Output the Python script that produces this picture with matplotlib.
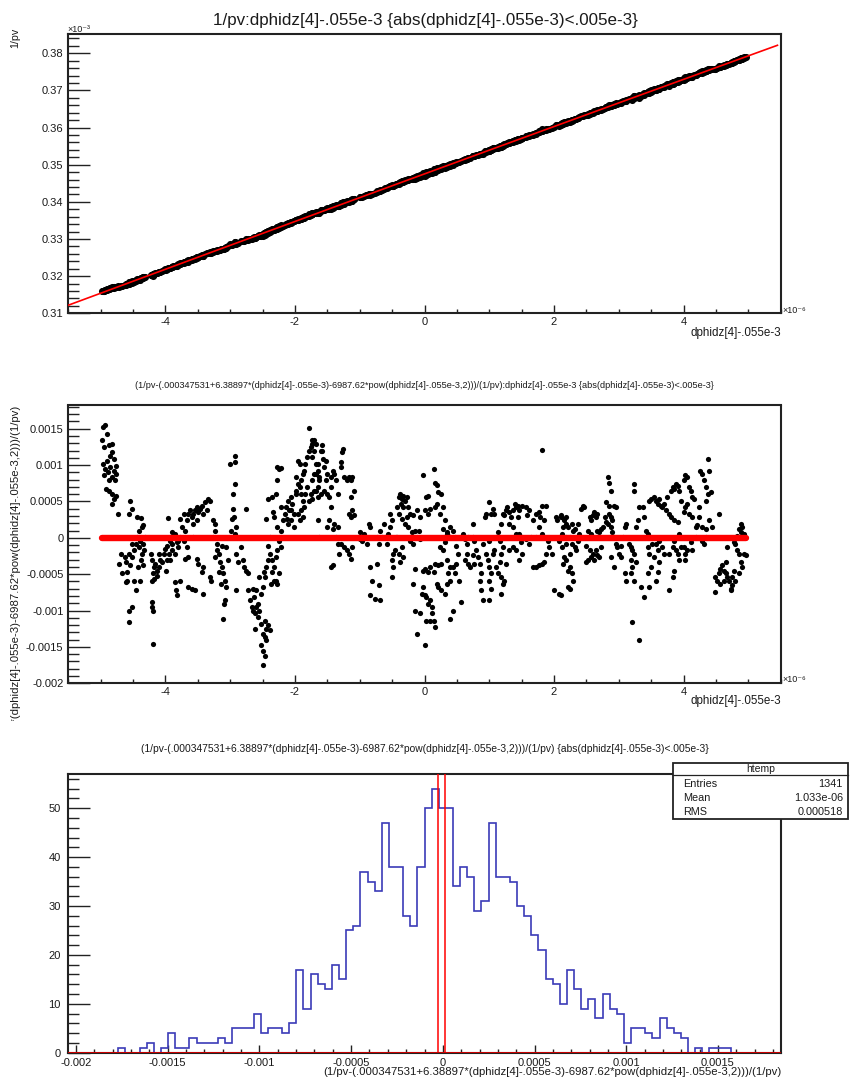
import numpy as np
import matplotlib
matplotlib.use("Agg")
import matplotlib.pyplot as plt
from matplotlib.ticker import MultipleLocator, FuncFormatter
from matplotlib.patches import Rectangle
from matplotlib.lines import Line2D
from matplotlib.transforms import Bbox, TransformedBbox

plt.rcParams['font.family'] = ['Liberation Sans', 'DejaVu Sans']
plt.rcParams['axes.unicode_minus'] = False

# ---------------- data ----------------
# fit of 1/pv versus x = dphidz[4]-.055e-3 (pol2), coefficients from the title
fit_coeffs = [0.000347531, 6.38897, -6987.62]

# residual points: (x in units of 1e-6, relative residual in units of 1e-4)
scatter_pts = [
    (-4.97,15.2),(-4.93,15.5),(-4.91,14.3),(-4.98,13.4),(-4.95,12.5),(-4.87,12.7),(-4.82,12.9),(-4.83,11.8),(-4.80,10.9),(-4.97,10.2),
    (-4.93,9.5),(-4.88,9.0),(-4.85,9.8),(-4.80,9.2),(-4.77,9.9),(-4.95,8.6),(-4.87,7.9),(-4.82,8.3),(-4.78,7.9),(-4.92,6.7),(-4.87,6.5),
    (-4.82,6.0),(-4.77,5.8),(-4.80,5.4),(-4.82,4.7),(-4.73,3.3),(-4.90,10.6),(-4.85,11.3),(-4.77,8.8),
    (-4.54,5.1),(-4.51,4.0),(-4.56,3.3),(-4.44,2.8),(-4.37,2.7),(-4.36,1.5),(-4.41,1.0),(-4.34,1.8),
    (-4.69,-2.2),(-4.63,-2.7),(-4.71,-3.6),(-4.61,-3.3),(-4.67,-4.9),(-4.59,-4.7),(-4.56,-2.2),(-4.51,-0.8),(-4.54,-3.8),(-4.49,-1.7),
    (-4.46,-0.8),(-4.44,0.1),(-4.41,-1.3),(-4.39,-0.4),(-4.36,-2.2),(-4.42,-4.0),(-4.40,-5.9),(-4.34,-0.8),(-4.31,0.1),(-4.46,-7.2),
    (-4.49,-5.9),(-4.59,-5.9),(-4.61,-6.1),(-4.51,-9.5),(-4.56,-10.0),(-4.57,-11.6),(-4.51,-2.7),(-4.37,-3.1),(-4.35,-3.8),(-4.33,-1.7),
    (-4.23,-2.2),(-4.21,-3.1),(-4.18,-4.0),(-4.19,-4.9),(-4.21,-5.9),(-4.21,-8.8),(-4.21,-9.5),(-4.19,-10.0),(-4.19,-14.6),(-4.16,-3.6),
    (-4.13,-4.5),(-4.17,-5.6),(-4.10,-4.0),(-4.13,-5.2),(-4.08,-3.1),(-4.05,-3.3),(-4.10,-2.2),
    (-4.00,-1.5),(-3.98,-1.1),(-4.03,-2.2),(-3.95,-2.2),(-3.98,-3.1),(-3.93,-3.1),(-3.99,-4.5),(-3.96,2.7),(-3.90,-0.8),(-3.88,0.1),
    (-3.85,0.5),(-3.82,-0.6),(-3.90,-1.7),(-3.85,-2.2),(-3.80,-1.3),(-3.77,0.1),(-3.85,-6.1),(-3.83,-7.2),(-3.82,-7.9),(-3.80,-0.4),
    (-3.90,0.8),(-3.93,-0.4),
    (-3.77,2.6),(-3.72,3.3),(-3.75,1.5),(-3.70,1.0),(-3.67,2.4),(-3.65,3.3),(-3.62,3.8),(-3.59,2.8),(-3.57,3.3),(-3.54,3.8),(-3.52,4.2),
    (-3.49,3.5),(-3.47,4.0),(-3.44,4.4),(-3.39,4.9),(-3.34,5.4),(-3.31,5.1),(-3.42,3.3),(-3.36,3.8),(-3.52,2.4),(-3.57,1.9),(-3.72,-0.4),
    (-3.67,-1.3),(-3.65,-2.7),(-3.70,-2.9),(-3.57,0.1),(-3.52,-2.9),(-3.49,-3.6),(-3.44,-4.7),(-3.42,-4.0),(-3.65,-6.8),(-3.54,-7.2),
    (-3.59,-7.0),(-3.77,-5.9),(-3.42,-7.7),(-3.31,-5.4),(-3.29,-5.9),(-3.26,2.4),(-3.24,1.9),(-3.23,1.0),(-3.26,0.1),(-3.21,-0.8),
    (-3.21,-1.7),(-3.18,-2.2),(-3.24,-2.7),(-3.16,-3.3),(-3.13,-4.0),(-3.18,-4.7),(-3.11,-4.9),(-3.08,-5.9),(-3.14,-6.3),(-3.06,-6.8),
    (-3.08,-8.6),(-3.09,-9.1),(-3.11,-11.1),(-3.03,-3.1),(-3.06,-1.3),(-3.13,-1.1),(-3.01,10.2),(-2.93,11.2),(-2.92,10.4),(-2.93,7.4),
    (-2.96,6.0),(-2.96,4.0),(-2.98,2.6),(-2.94,2.8),(-2.99,1.0),(-2.91,1.5),(-2.93,0.5),(-2.91,-2.2),(-2.88,-3.3),(-2.91,-7.2),
    (-2.83,-1.3),(-2.80,-3.1),(-2.75,4.0),(-2.78,-4.0),(-2.75,-4.5),(-2.72,-4.9),
    (-2.65,-7.0),(-2.60,-7.2),(-2.52,-7.7),(-2.50,-6.8),(-2.55,-5.4),(-2.67,-9.5),(-2.65,-10.0),(-2.62,-10.4),(-2.60,-9.5),(-2.57,-10.9),
    (-2.55,-10.0),(-2.62,-12.5),(-2.52,-11.8),(-2.50,-13.2),(-2.47,-13.6),(-2.44,-12.5),(-2.42,-12.0),(-2.39,-12.7),(-2.52,-14.8),
    (-2.50,-15.5),(-2.47,-16.2),(-2.50,-17.5),(-2.44,-14.1),(-2.47,-11.4),(-2.57,-9.1),(-2.70,-8.6),(-2.63,-8.2),(-2.72,-7.2),(-2.46,-5.4),
    (-2.48,-4.7),(-2.44,-4.0),(-2.42,-3.1),(-2.41,-1.1),(-2.38,0.1),(-2.44,2.6),(-2.41,5.4),(-2.36,5.6),(-2.34,3.5),(-2.39,-2.2),
    (-2.36,-3.1),(-2.35,-4.7),(-2.32,-4.0),(-2.33,-5.9),(-2.37,-6.3),(-2.29,-5.9),(-2.27,-6.3),(-2.24,-4.9),(-2.29,-2.7),(-2.27,-1.7),
    (-2.28,7.9),(-2.27,9.7),(-2.24,9.5),(-2.21,9.6),(-2.29,6.0),(-2.32,2.8),(-2.27,1.5),(-2.21,1.0),(-2.19,2.4),(-2.21,4.2),(-2.24,-0.4),
    (-2.21,-1.3),
    (-2.16,3.3),(-2.14,4.2),(-2.11,5.1),(-2.09,3.8),(-2.06,5.6),(-2.04,4.7),(-2.01,3.3),(-1.98,6.0),(-1.96,7.4),(-1.93,7.0),(-1.91,7.9),
    (-1.88,8.8),(-1.86,9.2),(-1.84,10.2),(-1.81,11.1),(-1.78,12.0),(-1.76,12.5),(-1.73,12.9),(-1.70,13.4),(-1.78,15.1),(-1.96,10.6),
    (-1.93,10.2),(-1.98,8.3),(-1.98,6.4),(-1.91,6.0),(-1.88,5.1),(-1.86,4.2),(-1.96,3.3),(-1.93,2.4),(-2.06,2.4),(-2.11,1.9),(-2.01,1.5),
    (-1.81,7.0),(-1.76,6.0),(-1.73,7.9),(-1.70,8.8),(-1.68,10.2),(-1.65,9.2),(-1.63,7.9),(-1.65,5.6),(-1.68,6.5),(-1.78,5.1),(-1.84,6.0),
    (-1.91,3.8),(-1.88,2.8),(-2.06,3.8),(-2.12,2.6),(-1.65,2.4),(-1.63,0.1),(-1.60,12.0),(-1.70,12.0),(-1.73,11.1),
    (-1.73,13.4),(-1.68,12.9),(-1.65,10.2),(-1.68,8.8),(-1.63,8.3),(-1.65,7.0),(-1.70,6.5),(-1.73,5.4),(-1.60,6.0),(-1.58,12.7),
    (-1.58,12.0),(-1.56,10.9),(-1.52,10.6),(-1.55,9.7),(-1.50,8.8),(-1.52,7.9),(-1.55,6.5),(-1.50,6.0),(-1.47,5.6),(-1.45,7.0),
    (-1.45,8.3),(-1.42,9.2),(-1.40,8.8),(-1.37,7.9),(-1.34,6.0),(-1.29,9.7),(-1.27,11.8),(-1.26,12.2),(-1.29,10.4),(-1.24,8.3),
    (-1.19,7.9),(-1.17,8.3),(-1.14,7.9),(-1.12,8.3),(-1.09,6.5),(-1.14,5.6),(-1.17,3.3),(-1.14,2.8),(-1.09,3.1),(-1.12,3.8),(-1.45,4.2),
    (-1.47,2.4),(-1.40,1.9),(-1.34,1.5),(-1.37,0.1),(-1.50,1.5),(-1.42,1.2),(-1.34,-0.8),(-1.29,-0.8),(-1.32,-2.2),(-1.24,-1.3),
    (-1.19,-1.7),(-1.14,-2.9),(-1.17,-2.2),(-1.12,-1.3),(-1.42,-3.8),(-1.45,-4.0),
    (-0.99,0.8),(-0.94,0.5),(-0.99,-0.1),(-0.91,0.1),(-0.86,1.9),(-0.84,1.5),(-0.89,-0.8),(-0.97,-0.4),(-0.84,-4.0),(-0.81,-5.9),
    (-0.84,-7.9),(-0.76,-8.4),(-0.70,-6.5),(-0.68,-8.6),(-0.73,-3.6),(-0.73,0.1),(-0.68,1.0),(-0.66,0.1),(-0.70,-0.8),(-0.63,1.9),
    (-0.61,0.1),(-0.58,-0.8),(-0.53,3.3),(-0.50,2.4),(-0.53,1.5),(-0.56,0.5),(-0.50,-3.1),(-0.48,-2.2),(-0.48,-4.0),(-0.50,-5.4),
    (-0.45,-1.7),(-0.44,0.1),(-0.43,4.2),
    (-0.40,5.6),(-0.38,6.0),(-0.35,5.4),(-0.33,5.8),(-0.30,5.1),(-0.27,5.6),(-0.37,4.7),(-0.33,4.2),(-0.25,4.2),(-0.22,3.3),(-0.27,2.8),
    (-0.17,3.1),(-0.12,3.8),(-0.07,2.8),(-0.40,3.3),(-0.35,2.6),(-0.30,1.9),(-0.25,1.5),(-0.20,0.8),(-0.15,1.0),(-0.09,1.0),(-0.12,0.1),
    (-0.22,-0.4),(-0.17,-0.8),(-0.07,-0.1),(-0.35,-1.3),(-0.40,-2.2),(-0.33,-2.7),(-0.38,-3.3),(-0.43,0.1),
    (-0.02,8.6),(0.03,5.6),(0.06,5.8),(0.08,4.0),(0.06,3.3),(0.01,3.8),(0.14,9.5),(0.16,7.6),(0.19,7.2),(0.21,6.3),(0.16,4.2),(0.19,4.7),
    (0.26,6.0),(0.29,4.2),(0.24,3.3),(0.31,2.4),(0.29,1.2),(0.34,0.8),(0.37,0.3),
    (-0.15,-4.3),(-0.17,-6.3),(-0.15,-10.0),(-0.12,-13.2),(-0.07,-10.4),(0.01,-14.8),(-0.04,-7.7),(-0.02,-6.8),(0.01,-7.9),(0.03,-8.2),
    (0.06,-9.1),(0.08,-8.6),(0.11,-9.5),(0.03,-11.4),(0.08,-11.4),(0.11,-10.4),(0.14,-11.4),(-0.02,-4.5),(0.01,-4.3),(0.06,-4.7),
    (0.08,-4.0),(0.14,-4.7),(0.16,-3.6),(0.21,-3.8),(0.26,-3.6),(0.19,-6.3),(0.21,-6.8),(0.26,-7.2),(0.31,-7.7),(0.34,-6.3),(0.39,-5.9),
    (0.37,-4.9),(0.39,-4.0),(0.34,-3.1),(0.29,-1.7),(0.24,-1.3),(0.31,-0.6),(0.34,0.5),(0.39,-11.1),(0.44,-10.0),(0.16,-12.3),
    (0.39,1.5),(0.44,1.0),(0.47,0.1),(0.49,-1.1),(0.52,-2.2),(0.49,-3.6),(0.44,-4.0),(0.47,-4.9),(0.54,-5.9),(0.57,-8.8),(0.60,0.5),
    (0.62,-0.1),(0.65,-0.8),(0.67,0.1),(0.62,-3.1),(0.65,-2.2),(0.67,-3.6),(0.70,-4.0),(0.75,0.1),(0.75,1.9),(0.77,-0.4),(0.80,-1.7),
    (0.82,-2.7),(0.77,-3.6),(0.75,-2.4),(0.85,-3.6),(0.87,-4.9),(0.85,-5.9),(0.87,-7.2),(0.90,-0.8),(0.93,2.8),(0.95,3.3),(1.00,4.9),
    (1.03,3.3),(1.05,4.0),(1.08,3.3),(1.00,-0.4),(0.95,-2.2),(0.98,-3.1),(1.00,-4.0),(1.03,-4.9),(1.00,-5.9),(1.03,-7.0),(1.00,-8.6),
    (0.90,-8.6),(1.05,-2.2),(1.08,-1.7),
    (1.11,0.1),(1.13,0.8),(1.16,-0.4),(1.18,1.9),(1.21,3.3),(1.23,3.1),(1.26,3.8),(1.28,4.2),(1.31,3.5),(1.34,2.8),(1.36,3.8),(1.39,4.7),
    (1.41,4.2),(1.44,4.4),(1.46,3.8),(1.51,4.4),(1.56,4.2),(1.59,3.1),(1.62,3.8),(1.44,2.8),(1.31,1.9),(1.36,1.5),(1.41,0.5),(1.46,0.5),
    (1.51,0.1),(1.56,-0.1),(1.49,-0.6),(1.21,-1.3),(1.18,-2.2),(1.16,-3.3),(1.11,-4.0),(1.13,-4.9),(1.18,-5.4),(1.21,-6.3),(1.18,-7.7),
    (1.23,-5.9),(1.26,-3.6),(1.31,-1.7),(1.36,-1.3),(1.41,-1.7),(1.46,-3.1),(1.51,-2.2),(1.62,-0.8),(1.64,0.1),(1.67,2.4),(1.72,3.3),
    (1.77,3.5),(1.82,4.4),(1.87,4.4),(1.79,2.8),(1.85,2.4),(1.77,1.5),(1.82,0.5),(1.82,12.1),(1.72,0.1),(1.67,-4.0),(1.72,-4.0),
    (1.77,-3.8),(1.82,-3.6),(1.85,-3.3),(1.87,-2.2),(1.92,-1.3),(1.90,-0.4),(1.97,-2.2),(2.00,-7.2),(2.08,-7.7),(2.03,2.8),(2.05,2.4),
    (2.10,3.1),(2.15,2.4),(2.18,2.8),(2.13,0.5),(2.18,0.1),(2.08,-0.4),(2.13,-1.3),(2.18,-3.1),(2.21,-4.5),(2.21,-6.8),
    (2.11,2.8),(2.16,2.6),(2.19,1.9),(2.14,1.5),(2.21,1.5),(2.27,1.9),(2.29,1.0),(2.32,1.2),(2.37,1.9),(2.24,0.1),(2.19,-0.8),(2.27,-0.8),
    (2.32,-1.3),(2.24,-2.2),(2.16,-2.7),(2.14,-3.6),(2.24,-4.0),(2.27,-4.9),(2.29,-5.9),(2.24,-7.0),(2.11,-7.9),(2.34,-1.7),(2.37,-0.4),
    (2.39,0.5),
    (2.42,4.0),(2.44,4.4),(2.47,4.2),(2.55,2.8),(2.57,2.4),(2.60,3.1),(2.62,3.5),(2.65,2.8),(2.67,3.3),(2.52,1.0),(2.57,0.5),(2.50,-1.1),
    (2.55,-1.7),(2.52,-3.1),(2.50,-3.3),(2.57,-2.7),(2.60,-2.2),(2.62,-3.1),(2.65,-1.7),(2.67,-2.4),(2.70,-2.7),(2.72,-1.3),(2.67,1.0),
    (2.70,0.8),(2.72,1.2),(2.75,1.5),
    (2.78,2.8),(2.80,2.2),(2.83,1.9),(2.85,3.3),(2.88,2.8),(2.90,2.4),(2.83,8.3),(2.85,7.6),(2.88,6.5),(2.80,4.9),(2.85,4.4),(2.93,4.4),
    (2.96,4.3),(2.88,1.5),(2.90,0.8),(2.93,0.1),(2.96,-0.8),(2.98,-1.3),(3.01,-2.2),(2.93,-4.0),(2.88,-2.7),(3.03,-1.1),(3.06,0.1),
    (3.09,1.5),(3.11,1.9),(3.03,-2.7),(3.09,-4.9),(3.11,-5.9),
    (3.16,-0.8),(3.19,-1.3),(3.21,-1.7),(3.24,-2.2),(3.19,-3.1),(3.21,-4.0),(3.26,-3.3),(3.19,-4.9),(3.24,-5.9),(3.20,-11.6),(3.31,-14.1),
    (3.24,7.4),(3.24,6.5),(3.26,1.5),(3.29,2.4),(3.31,4.2),(3.37,4.2),(3.39,2.8),(3.42,1.0),(3.45,0.5),(3.34,-6.8),(3.39,-8.2),(3.47,-6.8),
    (3.45,-4.9),(3.50,-4.0),(3.47,-2.2),(3.45,-1.3),(3.52,-0.8),
    (3.47,5.1),(3.50,5.4),(3.55,5.6),(3.57,5.1),(3.60,4.7),(3.62,5.4),(3.65,4.4),(3.67,4.2),(3.70,4.7),(3.73,3.8),(3.75,5.6),(3.78,3.3),
    (3.80,6.5),(3.83,7.0),(3.86,6.7),(3.88,7.4),(3.91,7.1),(3.93,6.5),(3.96,5.1),(3.80,2.8),(3.86,2.4),(3.91,2.2),(3.57,-0.8),(3.60,-1.7),
    (3.62,-0.4),(3.55,-2.7),(3.62,-3.3),(3.60,-4.7),(3.57,-5.9),(3.67,-1.3),(3.70,-2.2),(3.78,-2.2),(3.83,-1.3),(3.86,-0.4),(3.88,-1.7),
    (3.91,-2.2),(3.86,-4.5),(3.83,-5.4),(3.78,-7.2),(3.93,-3.1),(3.96,-1.3),(3.93,0.5),
    (4.00,7.9),(4.03,8.6),(4.06,8.3),(4.08,7.0),(4.11,6.5),(4.13,5.6),(4.16,5.4),(4.06,4.7),(4.03,4.2),(4.00,3.5),(4.08,3.3),(4.13,2.8),
    (4.19,1.5),(4.21,1.7),(4.24,4.2),(4.26,9.2),(4.29,8.8),(4.31,7.9),(4.34,7.0),(4.37,10.8),(4.39,9.2),(4.37,6.0),(4.42,6.3),(4.34,5.1),
    (4.24,2.8),(4.29,1.5),(4.34,1.2),(4.39,2.4),(4.44,1.5),(4.29,-0.4),(4.31,-0.8),(4.34,0.1),(4.19,0.1),(4.13,-1.7),(4.00,-1.3),
    (4.03,-2.2),(4.06,-1.7),(4.03,-3.1),(4.11,-0.6),
    (4.55,3.3),(4.49,-7.5),(4.52,-5.9),(4.55,-4.9),(4.49,-5.4),(4.57,-4.3),(4.59,-3.8),(4.62,-4.5),(4.65,-4.9),(4.67,-5.4),(4.70,-5.9),
    (4.73,-7.0),(4.65,-3.3),(4.62,-6.0),(4.57,-6.3),(4.67,-1.3),(4.75,-5.4),(4.78,-4.5),(4.80,-0.8),(4.83,0.3),(4.85,1.2),(4.88,1.9),
    (4.91,1.5),(4.93,0.5),(4.85,-2.2),(4.88,-3.3),(4.93,-2.2),(4.96,-2.4),(4.91,-4.0),(4.85,-4.9),(4.80,-5.9),(4.75,-6.5),(4.73,-7.2),
    (4.88,0.8),(4.91,0.1),(4.83,-1.7),(4.78,-0.6),
]

# histogram of the residuals (htemp): 100 bins
hist_range = [-0.002042, 0.001842]
hist_counts = [0, 0, 0, 0, 0, 0, 0, 1, 0, 0,
               1, 2, 0, 1, 4, 1, 1, 3, 2, 2,
               2, 3, 2, 5, 5, 5, 8, 4, 5, 5,
               4, 6, 17, 9, 16, 14, 13, 18, 15, 25,
               26, 37, 35, 33, 47, 38, 38, 28, 26, 38,
               50, 54, 50, 50, 34, 38, 36, 29, 31, 47,
               36, 36, 35, 30, 28, 24, 21, 15, 14, 10,
               17, 13, 9, 11, 7, 12, 9, 8, 2, 5,
               5, 4, 3, 7, 5, 4, 3, 0, 1, 0,
               1, 1, 1, 0, 0, 0, 0, 0, 0, 0]
marker_lines = [-2.4e-5, 1.3e-5]
stats_labels = ["Entries", "Mean", "RMS"]
stats_values = ["1341", "1.033e-06", "0.000518"]

TITLE_TOP = "1/pv:dphidz[4]-.055e-3 {abs(dphidz[4]-.055e-3)<.005e-3}"
RES_EXPR = "(1/pv-(.000347531+6.38897*(dphidz[4]-.055e-3)-6987.62*pow(dphidz[4]-.055e-3,2)))/(1/pv)"
TITLE_MID = RES_EXPR + ":dphidz[4]-.055e-3 {abs(dphidz[4]-.055e-3)<.005e-3}"
TITLE_BOT = RES_EXPR + " {abs(dphidz[4]-.055e-3)<.005e-3}"
XLAB = "dphidz[4]-.055e-3"

# ---------------- figure ----------------
W, H = 850, 1082
fig = plt.figure(figsize=(W / 100, H / 100), dpi=100)
renderer = fig.canvas.get_renderer()
TXT = '#1a1a1a'


def fx(x):
    return x / W


def fy(y):
    return 1 - y / H


def axes_px(l, t, r, b):
    return fig.add_axes([fx(l), fy(b), (r - l) / W, (b - t) / H])


def fit_text(x, y, s, size_px, ha='center', va='center', rotation=0, **kw):
    t = fig.text(fx(x), fy(y), s, ha=ha, va=va, rotation=rotation, fontsize=10, color=TXT, **kw)
    bb = t.get_window_extent(renderer)
    cur = bb.height if rotation == 90 else bb.width
    t.set_fontsize(10 * size_px / cur)
    return t


def style(ax, ypad=3.5):
    for sp in ax.spines.values():
        sp.set_linewidth(1.5)
        sp.set_color('#222222')
    ax.tick_params(which='both', direction='in', top=False, right=False,
                   colors='#222222', labelcolor=TXT, labelsize=8, width=1.0)
    ax.tick_params(axis='y', which='major', length=15.6, pad=ypad)
    ax.tick_params(axis='y', which='minor', length=7.8)
    ax.tick_params(axis='x', which='major', length=5.8, pad=2.5)
    ax.tick_params(axis='x', which='minor', length=2.9)


def gfmt(nd):
    def f(v, p):
        v = round(v, nd)
        if abs(v) < 1e-12:
            return '0'
        return '%g' % v
    return FuncFormatter(f)


pts = np.array(scatter_pts)
x_e6 = pts[:, 0]
r_e4 = pts[:, 1]
x_raw = x_e6 * 1e-6
r_raw = r_e4 * 1e-4
fit_vals = fit_coeffs[0] + fit_coeffs[1] * x_raw + fit_coeffs[2] * x_raw ** 2
inv_pv = fit_vals / (1 - r_raw)

L, R = 68.3, 780.7

# ---- top panel ----
ax1 = axes_px(L, 34.3, R, 313.3)
style(ax1)
ax1.scatter(x_e6, inv_pv * 1e3, s=26, color='black', linewidths=0, zorder=2)
xf = np.linspace(-5.5e-6, 5.45e-6, 200)
yf = fit_coeffs[0] + fit_coeffs[1] * xf + fit_coeffs[2] * xf ** 2
ax1.plot(xf * 1e6, yf * 1e3, color='#ff0000', lw=1.2, zorder=3)
ax1.set_xlim(-5.5, 5.5)
ax1.set_ylim(0.31, 0.3851)
ax1.xaxis.set_major_locator(MultipleLocator(2))
ax1.xaxis.set_minor_locator(MultipleLocator(0.5))
ax1.yaxis.set_major_locator(MultipleLocator(0.01))
ax1.yaxis.set_minor_locator(MultipleLocator(0.002))
ax1.yaxis.set_major_formatter(gfmt(4))
ax1.xaxis.set_major_formatter(gfmt(3))

fit_text(425.5, 21, TITLE_TOP, 425)
fit_text(15, 28, "1/pv", 20, ha='center', va='top', rotation=90)
fig.text(fx(67), fy(30), "×10⁻³", fontsize=6.5, ha='left', va='center', color=TXT,
         family=['Liberation Sans', 'DejaVu Sans'])
fig.text(fx(782), fy(310), "×10⁻⁶", fontsize=6.5, ha='left', va='center', color=TXT,
         family=['Liberation Sans', 'DejaVu Sans'])
fit_text(R, 333, XLAB, 90, ha='right')

# ---- middle panel ----
ax2 = axes_px(L, 405.5, R, 683.3)
style(ax2)
ax2.scatter(x_e6, r_raw, s=14, color='black', linewidths=0, zorder=2)
xs = np.sort(x_e6)
ax2.plot(xs, np.zeros_like(xs), color='#ff0000', lw=4.6, solid_capstyle='round', zorder=3)
ax2.set_xlim(-5.5, 5.5)
ax2.set_ylim(-0.002, 0.00182)
ax2.xaxis.set_major_locator(MultipleLocator(2))
ax2.xaxis.set_minor_locator(MultipleLocator(0.5))
ax2.yaxis.set_major_locator(MultipleLocator(0.0005))
ax2.yaxis.set_minor_locator(MultipleLocator(0.0001))
ax2.yaxis.set_major_formatter(gfmt(6))
ax2.xaxis.set_major_formatter(gfmt(3))

fit_text(424.5, 385, TITLE_MID, 579)
fig.text(fx(782), fy(680), "×10⁻⁶", fontsize=6.5, ha='left', va='center', color=TXT,
         family=['Liberation Sans', 'DejaVu Sans'])
fit_text(R, 701, XLAB, 90, ha='right')
ylab = fit_text(15, 405, RES_EXPR, 458, ha='center', va='top', rotation=90)
ylab.set_clip_box(TransformedBbox(Bbox([[0, fy(721.3)], [1, fy(360.7)]]), fig.transFigure))
ylab.set_clip_on(True)

# ---- bottom panel ----
ax3 = axes_px(L, 774, R, 1052.7)
style(ax3, ypad=5.5)
edges = np.linspace(hist_range[0], hist_range[1], len(hist_counts) + 1)
ax3.stairs(hist_counts, edges, color='#3b3bb8', lw=1.2, zorder=2)
for xv in marker_lines:
    ax3.axvline(xv, color='#ff0000', lw=1.1, zorder=3)
ax3.axhline(0, color='#cc0000', lw=1.4, zorder=4)
ax3.set_xlim(hist_range[0], hist_range[1])
ax3.set_ylim(0, 57)
ax3.xaxis.set_major_locator(MultipleLocator(0.0005))
ax3.xaxis.set_minor_locator(MultipleLocator(0.0001))
ax3.yaxis.set_major_locator(MultipleLocator(10))
ax3.yaxis.set_minor_locator(MultipleLocator(2))
ax3.xaxis.set_major_formatter(gfmt(6))
ax3.yaxis.set_major_formatter(gfmt(1))
ax3.tick_params(axis='x', which='major', pad=3.5)

fit_text(425, 749, TITLE_BOT, 567)
fit_text(R + 1, 1072, RES_EXPR, 458, ha='right')

# stats box
bx0, by0, bx1, by1 = 673, 763, 848, 819
fig.add_artist(Rectangle((fx(bx0), fy(by1)), (bx1 - bx0) / W, (by1 - by0) / H,
                         transform=fig.transFigure, facecolor='white', edgecolor='#222222',
                         lw=1.3, zorder=10))
fig.add_artist(Line2D([fx(bx0), fx(bx1)], [fy(775), fy(775)], transform=fig.transFigure,
                      color='#222222', lw=0.9, zorder=11))
fig.text(fx((bx0 + bx1) / 2), fy(769), "htemp", ha='center', va='center', fontsize=7.5,
         color=TXT, zorder=12)
for i, (lab, val) in enumerate(zip(stats_labels, stats_values)):
    yy = 784 + 14 * i
    fig.text(fx(683), fy(yy), lab, ha='left', va='center', fontsize=7.8, color=TXT, zorder=12)
    fig.text(fx(843), fy(yy), val, ha='right', va='center', fontsize=7.8, color=TXT, zorder=12)

fig.savefig("out.png", dpi=100, facecolor='white')
